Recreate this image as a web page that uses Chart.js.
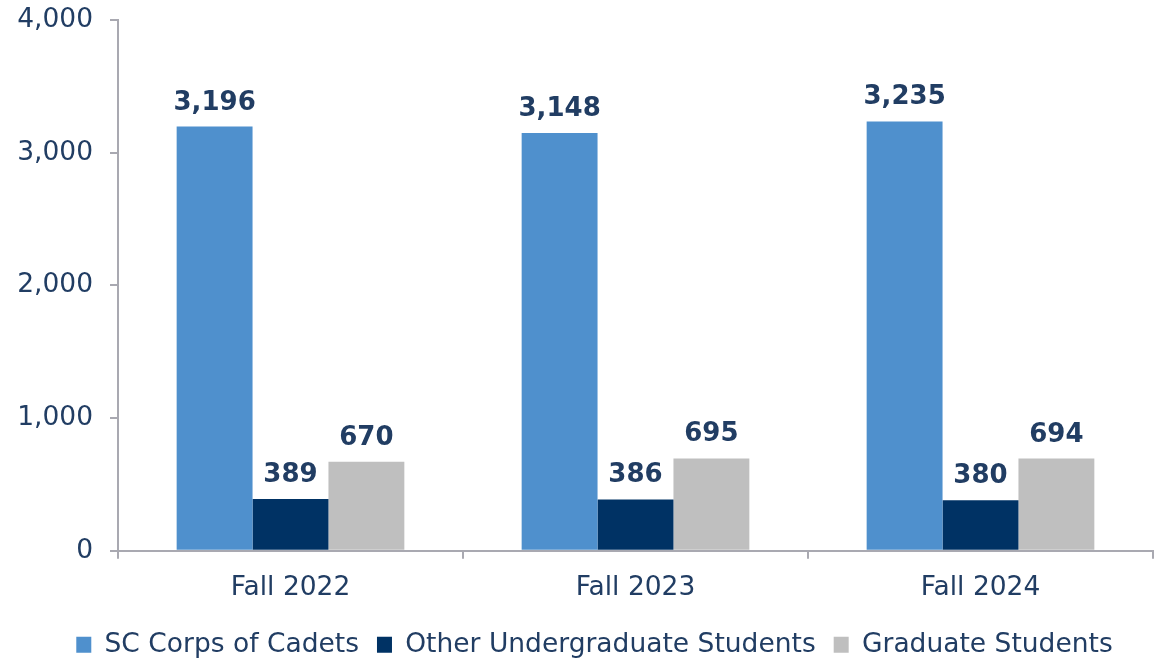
<!DOCTYPE html>
<html>
<head>
<meta charset="utf-8">
<script src="https://cdn.jsdelivr.net/npm/chart.js@4/dist/chart.umd.min.js"></script>
<style>
  html, body { margin: 0; padding: 0; background: #ffffff; }
  #wrap { width: 1160px; height: 658px; position: relative; }
</style>
</head>
<body>
<div id="wrap"><canvas id="c"></canvas></div>
<script>
const categories = ['Fall 2022', 'Fall 2023', 'Fall 2024'];
const seriesNames = ['SC Corps of Cadets', 'Other Undergraduate Students', 'Graduate Students'];
const corpsOfCadets = [3196, 3148, 3235];
const otherUndergrad = [389, 386, 380];
const graduate = [670, 695, 694];
const yTicks = [0, 1000, 2000, 3000, 4000];

const colors = ['#4F90CD', '#003264', '#BFBFBF'];
const textColor = '#213D63';
const axisColor = '#A9A9B1';
const FONT = "'DejaVu Sans', Verdana, sans-serif";
const FS = 26.5;

const fmt = v => v.toLocaleString('en-US');

const labelPlugin = {
  id: 'barLabels',
  afterDatasetsDraw(chart) {
    const ctx = chart.ctx;
    ctx.save();
    ctx.font = "bold 26px " + FONT;
    ctx.fillStyle = textColor;
    ctx.textAlign = 'center';
    ctx.textBaseline = 'alphabetic';
    chart.data.datasets.forEach((ds, i) => {
      const meta = chart.getDatasetMeta(i);
      meta.data.forEach((bar, j) => {
        ctx.fillText(fmt(ds.data[j]), bar.x, bar.y - 17);
      });
    });
    ctx.restore();
  }
};

const legendTweak = {
  id: 'legendTweak',
  afterInit(chart) {
    const lg = chart.legend;
    if (!lg) return;
    const orig = lg.fit.bind(lg);
    lg.fit = function () { orig(); this.height -= 15; };
  },
  afterLayout(chart) {
    const lg = chart.legend;
    if (!lg) return;
    lg.top -= 5;
    lg.left += 18;
    lg.right += 18;
  }
};

new Chart(document.getElementById('c'), {
  type: 'bar',
  data: {
    labels: categories,
    datasets: [
      { label: seriesNames[0], data: corpsOfCadets, backgroundColor: colors[0] },
      { label: seriesNames[1], data: otherUndergrad, backgroundColor: colors[1] },
      { label: seriesNames[2], data: graduate, backgroundColor: colors[2] }
    ]
  },
  options: {
    responsive: true,
    maintainAspectRatio: false,
    animation: false,
    datasets: { bar: { categoryPercentage: 0.66, barPercentage: 1.0 } },
    layout: { padding: { top: 0, right: 7, left: 0, bottom: 0 } },
    plugins: {
      tooltip: { enabled: false },
      legend: {
        position: 'bottom',
        labels: {
          font: { family: FONT, size: FS },
          color: textColor,
          boxWidth: 15,
          boxHeight: 16,
          padding: 18
        }
      }
    },
    scales: {
      x: {
        grid: { display: true, drawOnChartArea: false, drawTicks: true, tickLength: 8, offset: true, color: axisColor, lineWidth: 2 },
        border: { display: true, color: axisColor, width: 2 },
        ticks: { font: { family: FONT, size: FS }, color: textColor, padding: 14 }
      },
      y: {
        min: 0, max: 4000,
        afterBuildTicks(scale) { scale.ticks = yTicks.map(v => ({ value: v })); },
        afterFit(scale) { scale.width = 118; },
        grid: { display: true, drawOnChartArea: false, drawTicks: true, tickLength: 8, color: axisColor, lineWidth: 2 },
        border: { display: true, color: axisColor, width: 2 },
        ticks: { font: { family: FONT, size: FS, lineHeight: 0.22 }, color: textColor, padding: 17, callback: v => fmt(v) }
      }
    }
  },
  plugins: [labelPlugin, legendTweak]
});
</script>
</body>
</html>
